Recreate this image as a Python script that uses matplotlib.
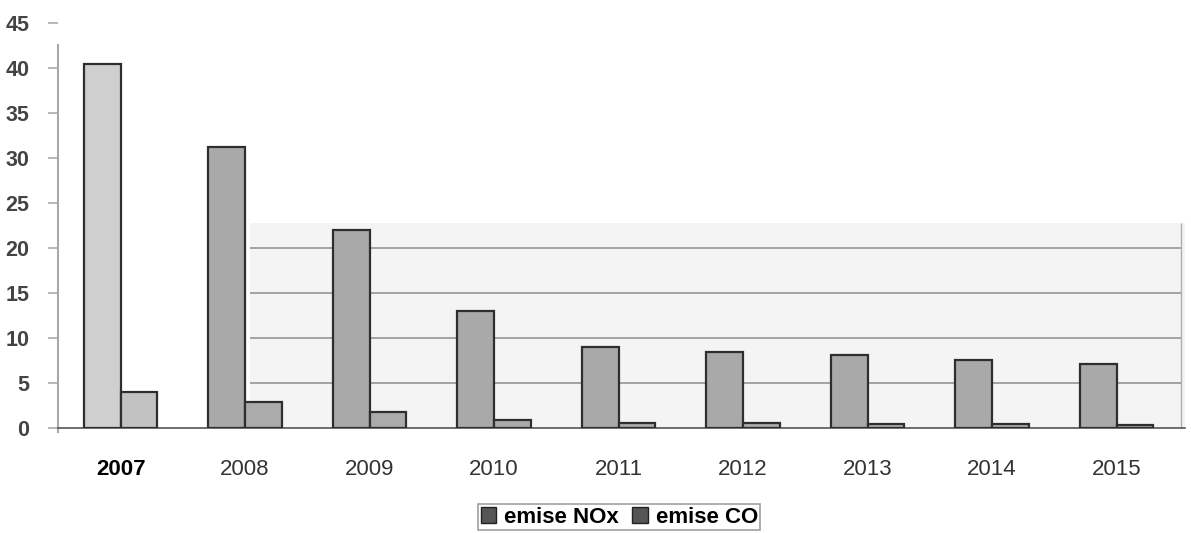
import matplotlib.pyplot as plt
from matplotlib.patches import Rectangle, Patch

# data
years = ["2007", "2008", "2009", "2010", "2011", "2012", "2013", "2014", "2015"]
nox = [40.4, 31.2, 22.0, 13.0, 9.0, 8.4, 8.1, 7.5, 7.1]
co = [4.0, 2.9, 1.8, 0.9, 0.6, 0.5, 0.45, 0.4, 0.35]
yticks = [0, 5, 10, 15, 20, 25, 30, 35, 40, 45]
grid_levels = [5, 10, 15, 20]

plt.rcParams['font.family'] = ['Liberation Sans', 'DejaVu Sans']

fig = plt.figure(figsize=(11.91, 5.33), dpi=100)
ax = fig.add_axes([0.049, 0.197, 0.946, 0.76])

x = list(range(len(years)))
w = 0.295

# pasted light panel with its own grid lines (from 2008 onward)
ax.add_patch(Rectangle((1.04, -1.0), 8.55 - 1.04, 23.8, facecolor="#f4f4f4",
                       edgecolor="none", zorder=0))
ax.hlines(grid_levels, 1.04, 8.52, colors="#9c9c9c", linewidth=1.3, zorder=1)
ax.vlines(8.52, -1.0, 22.8, colors="#b0b0b0", linewidth=1.0, zorder=1)

nox_colors = ["#cfcfcf"] + ["#a9a9a9"] * (len(years) - 1)
co_colors = ["#c2c2c2"] + ["#ababab"] * (len(years) - 1)
ax.bar([i - w / 2 for i in x], nox, width=w, color=nox_colors,
       edgecolor="#2e2e2e", linewidth=1.6, zorder=3)
ax.bar([i + w / 2 for i in x], co, width=w, color=co_colors,
       edgecolor="#2e2e2e", linewidth=1.6, zorder=3)

ax.set_xlim(-0.5, 8.55)
ax.set_ylim(0, 45)
ax.set_yticks(yticks)
ax.set_yticklabels([str(t) for t in yticks], fontsize=15.5, color="#444444",
                   fontweight="bold")
ax.tick_params(axis="y", length=7, color="#aaaaaa", width=1.2, pad=14)

ax.set_xticks(x)
ax.set_xticklabels(years, fontsize=16, color="#333333")
ax.get_xticklabels()[0].set_fontweight("bold")
ax.get_xticklabels()[0].set_color("black")
ax.tick_params(axis="x", length=0, pad=22)

for s in ["top", "right"]:
    ax.spines[s].set_visible(False)
ax.spines["left"].set_color("#aaaaaa")
ax.spines["left"].set_linewidth(1.5)
ax.spines["left"].set_bounds(-0.5, 42.5)
ax.spines["bottom"].set_color("#555555")
ax.spines["bottom"].set_linewidth(1.2)

handles = [Patch(facecolor="#555555", edgecolor="#222222", label="emise NOx"),
           Patch(facecolor="#555555", edgecolor="#222222", label="emise CO")]
leg = fig.legend(handles=handles, loc="center", bbox_to_anchor=(0.52, 0.0295),
                 ncol=2, frameon=True, fancybox=False,
                 handlelength=0.7, handleheight=0.7, handletextpad=0.35,
                 columnspacing=0.6, borderpad=0.12,
                 prop={"weight": "bold", "size": 16})
leg.get_frame().set_edgecolor("#888888")
leg.get_frame().set_linewidth(1.2)

fig.savefig("out.png", dpi=100, facecolor="white")
